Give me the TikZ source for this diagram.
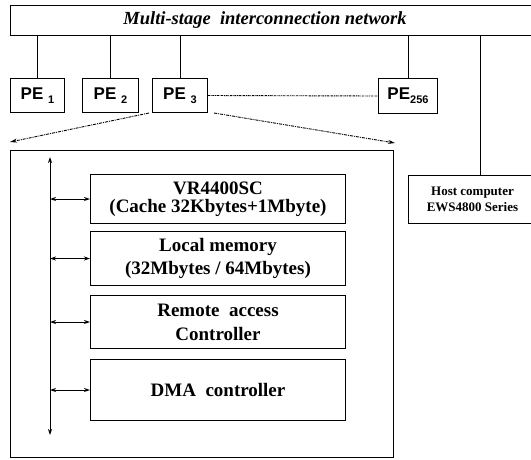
\documentclass[tikz,border=0pt]{standalone}
\usepackage{fontspec}
\setmainfont{Liberation Serif}
\newfontfamily\pesans{Liberation Sans}
\usetikzlibrary{arrows.meta}
\tikzset{
  frame/.style={draw, line width=1pt, inner sep=0pt, anchor=north west},
  pebox/.style={frame, font=\pesans\bfseries\fontsize{17}{17}\selectfont},
  unit/.style={frame, minimum width=255pt, align=center,
    font=\bfseries\fontsize{19}{19}\selectfont},
  link/.style={line width=0.9pt},
  zoomline/.style={line width=0.9pt, dash pattern=on 3pt off 1pt on 1pt off 1pt,
    -{Stealth[length=7pt,width=4pt]}},
  peline/.style={line width=0.9pt, dash pattern=on 2pt off 0.8pt on 0.8pt off 0.8pt},
  busarrow/.style={line width=0.9pt, {Stealth[length=6pt,width=4pt]}-{Stealth[length=6pt,width=4pt]}}
}
\newcommand{\pesub}[1]{\raisebox{-4pt}{\fontsize{11}{11}\selectfont #1}}
\begin{document}
\begin{tikzpicture}[x=1pt,y=-1pt]
  \clip (0,0) rectangle (531,459);

  % interconnection network across the top
  \node[frame, minimum width=530pt, minimum height=30pt] (net) at (10,5) {};
  \node[font=\bfseries\itshape\fontsize{18.5}{18.5}\selectfont] (nettext) at (265,20)
    {Multi-stage\ \ interconnection network};

  % processing elements
  \node[pebox, minimum width=54pt, minimum height=34pt] (pe1) at (10,78) {PE\ \pesub{1}};
  \node[pebox, minimum width=56pt, minimum height=34pt] (pe2) at (82,78) {PE\ \pesub{2}};
  \node[pebox, minimum width=55pt, minimum height=34pt] (pe3) at (152,78) {PE\ \pesub{3}};
  \node[pebox, minimum width=59pt, minimum height=35pt] (pe256) at (378,78) {PE\pesub{256}};

  \foreach \p in {pe1,pe2,pe3,pe256}
    \draw[link] (\p.north) -- (\p.north |- net.south);
  \draw[peline] (pe3.east) -- (pe256.west);

  % host computer
  \node[frame, minimum width=128pt, minimum height=48pt, align=center,
        font=\bfseries\fontsize{13}{16}\selectfont] (host) at (408,175)
    {Host computer\\EWS4800 Series};
  \coordinate (hostjoin) at (480,175);
  \draw[link] (hostjoin |- net.south) -- (hostjoin);

  % expanded view of one processing element
  \node[frame, line width=1.2pt, minimum width=383pt, minimum height=307pt] (detail) at (10,150) {};
  \coordinate (zoomL) at (10,142);
  \coordinate (zoomR) at (395,143);
  \draw[zoomline] (pe3.south west) ++(-3pt,0) -- (zoomL);
  \draw[zoomline] (pe3.south east) ++(6pt,0) -- (zoomR);

  \node[unit, minimum height=49pt] (cpu) at (90,174)
    {VR4400SC\\[-1pt](Cache 32Kbytes+1Mbyte)};
  \node[unit, minimum height=54pt] (mem) at (90,231)
    {Local memory\\[4pt](32Mbytes / 64Mbytes)};
  \node[unit, minimum height=53pt] (rac) at (90,295)
    {Remote\ \ access\\[5pt]Controller};
  \node[unit, minimum height=61pt] (dma) at (90,359)
    {DMA\ \ controller};

  % internal bus
  \coordinate (bustop) at (50,157);
  \coordinate (busbot) at (50,435);
  \draw[busarrow] (busbot) -- (bustop);
  \foreach \u in {cpu,mem,rac,dma}
    \draw[busarrow] (\u.west -| bustop) -- (\u.west);
\end{tikzpicture}
\end{document}
